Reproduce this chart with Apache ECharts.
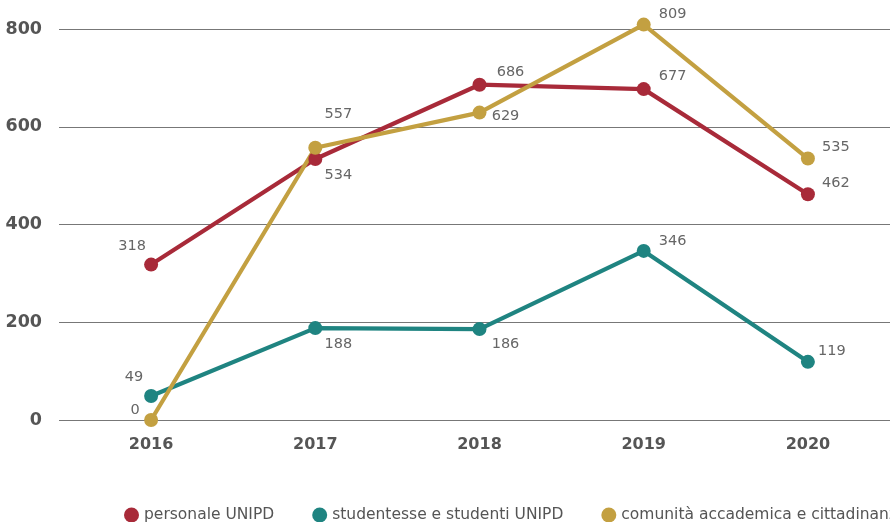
<!DOCTYPE html>
<html>
<head>
<meta charset="utf-8">
<script src="https://cdn.jsdelivr.net/npm/echarts@6/dist/echarts.min.js"></script>
<style>
  html, body { margin: 0; padding: 0; background: #fff; }
  #chart { width: 890px; height: 522px; }
</style>
</head>
<body>
<div id="chart"></div>
<script>
// Years on the horizontal axis
const years = ['2016', '2017', '2018', '2019', '2020'];

// Participants per group and year
const personale = [318, 534, 686, 677, 462];
const studenti = [49, 188, 186, 346, 119];
const comunita = [0, 557, 629, 809, 535];

const seriesNames = ['personale UNIPD', 'studentesse e studenti UNIPD', 'comunità accademica e cittadinanza'];

// Y axis scale
const yMin = 0, yMax = 800, yStep = 200;

// Value label placement (pixel offsets from each point)
const offsPersonale = [[-19, -18], [23, 16], [31, -12], [29, -13], [28, -11]];
const offsStudenti = [[-17, -19], [23, 16], [26, 15], [29, -10], [24, -11]];
const offsComunita = [[-16, -10], [23, -34], [26, 4], [29, -10], [28, -11]];

const colors = ['#a82a39', '#1f8481', '#c3a041'];

const labelFont = 'DejaVu Sans, sans-serif';

function withLabels(values, offsets) {
  return values.map((v, i) => ({
    value: v,
    label: { offset: offsets[i] }
  }));
}

function lineSeries(name, values, offsets, color) {
  return {
    name: name,
    type: 'line',
    xAxisIndex: 1,
    yAxisIndex: 1,
    data: withLabels(values, offsets),
    clip: false,
    symbol: 'circle',
    symbolSize: 14,
    lineStyle: { color: color, width: 4.2 },
    itemStyle: { color: color },
    emphasis: { disabled: true },
    label: {
      show: true,
      position: 'inside',
      align: 'center',
      verticalAlign: 'middle',
      color: '#666',
      fontFamily: labelFont,
      fontSize: 14.5
    }
  };
}

const chart = echarts.init(document.getElementById('chart'), null, { renderer: 'canvas' });

chart.setOption({
  animation: false,
  backgroundColor: '#fff',
  grid: [
    { left: 59, right: 0, top: 29, bottom: 102 },
    { left: 69, width: 822, top: 29, bottom: 102 }
  ],
  legend: {
    type: 'plain',
    left: 119,
    top: 502,
    width: 1200,
    icon: 'circle',
    itemWidth: 15,
    itemHeight: 15,
    itemGap: 38,
    data: seriesNames,
    textStyle: { color: '#555', fontFamily: labelFont, fontSize: 15.5 }
  },
  xAxis: [
    { type: 'value', gridIndex: 0, show: false, min: 0, max: 1 },
    {
      type: 'category',
      gridIndex: 1,
      data: years,
      boundaryGap: true,
      axisLine: { show: false },
      axisTick: { show: false },
      axisLabel: {
        margin: 17,
        color: '#555',
        fontFamily: labelFont,
        fontWeight: 'bold',
        fontSize: 16
      }
    }
  ],
  yAxis: [
    {
      type: 'value',
      gridIndex: 0,
      min: yMin,
      max: yMax,
      interval: yStep,
      axisLine: { show: false },
      axisTick: { show: false },
      splitLine: { lineStyle: { color: '#777', width: 1.2 } },
      axisLabel: {
        margin: 17,
        color: '#555',
        fontFamily: labelFont,
        fontWeight: 'bold',
        fontSize: 17.5
      }
    },
    {
      type: 'value',
      gridIndex: 1,
      min: yMin,
      max: yMax,
      interval: yStep,
      show: false
    }
  ],
  series: [
    lineSeries(seriesNames[0], personale, offsPersonale, colors[0]),
    lineSeries(seriesNames[1], studenti, offsStudenti, colors[1]),
    lineSeries(seriesNames[2], comunita, offsComunita, colors[2])
  ]
});
</script>
</body>
</html>
